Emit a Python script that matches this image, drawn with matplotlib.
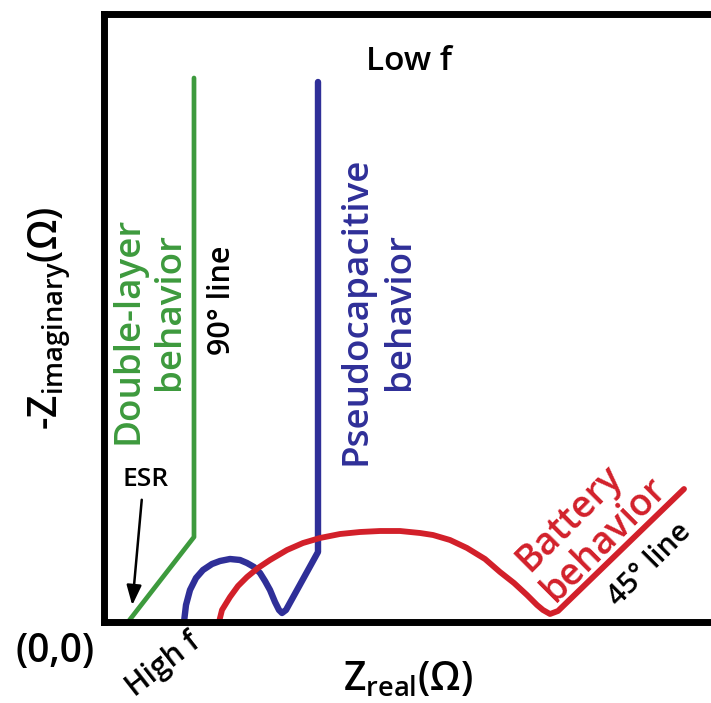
import matplotlib
matplotlib.use("Agg")
import matplotlib.pyplot as plt

plt.rcParams["font.family"] = ["Open Sans", "DejaVu Sans"]
plt.rcParams["font.weight"] = "semibold"
plt.rcParams["mathtext.fontset"] = "custom"
plt.rcParams["mathtext.rm"] = "Open Sans:semibold"
plt.rcParams["mathtext.it"] = "Open Sans:semibold"

GREEN = "#3d9a3d"
BLUE = "#2f2f98"
RED = "#d2202a"

# schematic Nyquist curves (x = Z_real, y = -Z_imag)
double_layer_x = [24, 90, 90]
double_layer_y = [0, 85, 544]

pseudo_x = [80, 82, 86, 92, 99, 108, 116, 126, 136, 143, 150, 156, 161, 166,
            171, 175, 178, 182, 214, 214]
pseudo_y = [0, 17, 32, 44, 52, 58, 61, 63, 62, 59, 55, 49, 41, 32,
            20, 12, 9, 12, 70, 540]

battery_x = [115, 118, 126, 134, 143, 154, 166, 183, 199, 216, 236, 256, 276,
             296, 316, 329, 346, 363, 381, 396, 410, 423, 433, 439, 446, 454, 580]
battery_y = [0, 12, 25, 36, 45, 54, 62, 72, 79, 84, 88, 90, 91,
             91, 89, 87, 82, 74, 63, 50, 39, 27, 17, 12, 8, 11, 133]

fig = plt.figure(figsize=(7.11, 7.03), dpi=100)
ax = fig.add_axes([104 / 711, 81 / 703, 616 / 711, 608.5 / 703])
ax.set_xlim(0, 616)
ax.set_ylim(0, 608.5)
ax.set_xticks([])
ax.set_yticks([])
for s in ax.spines.values():
    s.set_linewidth(5)
    s.set_zorder(5)

ax.plot(double_layer_x, double_layer_y, color=GREEN, lw=3.4,
        solid_joinstyle="round", solid_capstyle="round")
ax.plot(pseudo_x, pseudo_y, color=BLUE, lw=4.6,
        solid_joinstyle="round", solid_capstyle="round")
ax.plot(battery_x, battery_y, color=RED, lw=4.2,
        solid_joinstyle="round", solid_capstyle="round")

# labels
ax.text(305, 560, "Low f", fontsize=24, ha="center", va="center")
ax.text(24, 292, "Double-layer", fontsize=26.5, color=GREEN, rotation=90,
        ha="center", va="center")
ax.text(66, 311, "behavior", fontsize=26.5, color=GREEN, rotation=90,
        ha="center", va="center")
ax.text(118, 322, "90° line", fontsize=22, rotation=90, ha="center", va="center")
ax.text(253, 311, "Pseudocapacitive", fontsize=26.5, color=BLUE, rotation=90,
        ha="center", va="center")
ax.text(296, 311, "behavior", fontsize=26.5, color=BLUE, rotation=90,
        ha="center", va="center")
ax.text(465, 104, "Battery", fontsize=27, color=RED, rotation=45,
        ha="center", va="center", rotation_mode="anchor")
ax.text(500, 83, "behavior", fontsize=27, color=RED, rotation=45,
        ha="center", va="center", rotation_mode="anchor")
ax.text(546, 57, "45° line", fontsize=21, rotation=45, ha="center", va="center",
        rotation_mode="anchor")
ax.text(42, 142, "ESR", fontsize=19, ha="center", va="center")
ax.annotate("", xy=(28, 14), xytext=(38, 125),
            arrowprops=dict(arrowstyle="-|>,head_length=1.2,head_width=0.45",
                            color="black", lw=1.8))

ax.text(-49, -30, "(0,0)", fontsize=28, ha="center", va="center", clip_on=False)
ax.text(59, -43, "High f", fontsize=21.5, rotation=38, ha="center", va="center",
        rotation_mode="anchor", clip_on=False)
ax.text(304, -68, r"Z$_\mathregular{real}$(Ω)", fontsize=28, ha="center",
        va="baseline", clip_on=False)
ax.text(-54, 304, r"-Z$_\mathregular{imaginary}$(Ω)", fontsize=28, rotation=90,
        ha="center", va="center", clip_on=False)

fig.savefig("out.png", dpi=100)
